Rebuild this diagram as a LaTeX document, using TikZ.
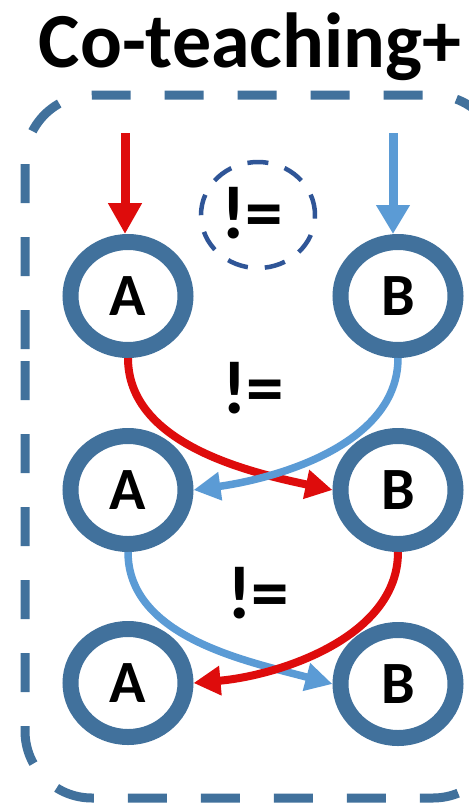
\documentclass[tikz,border=0pt]{standalone}
\usepackage{fontspec}
\setmainfont{Carlito}
\usetikzlibrary{arrows.meta,shapes.geometric}
\definecolor{ringblue}{RGB}{65,113,156}
\definecolor{darkdash}{RGB}{47,85,151}
\definecolor{arrred}{RGB}{222,12,12}
\definecolor{arrblue}{RGB}{91,155,213}
\tikzset{
  ringnode/.style={ellipse, draw=ringblue, line width=16pt, minimum width=115pt,
    minimum height=108pt, inner sep=0pt, text=black,
    font=\fontsize{60}{60}\selectfont\bfseries},
  neq/.style={inner sep=0pt, text=black, font=\fontsize{75}{75}\selectfont\bfseries},
  dcirc/.style={ellipse, draw=darkdash, line width=4.5pt, minimum width=114pt,
    minimum height=106pt, inner sep=0pt, dash pattern=on 21pt off 17pt},
  titlenode/.style={inner sep=0pt, text=black, font=\fontsize{78}{78}\selectfont\bfseries},
  border/.style={draw=ringblue, line width=9pt, dash pattern=on 39pt off 34pt},
  redv/.style={draw=arrred, line width=9pt, -{Triangle[length=31pt,width=32pt]}},
  bluev/.style={draw=arrblue, line width=9pt, -{Triangle[length=29pt,width=32pt]}},
  redc/.style={draw=arrred, line width=8pt, -{Triangle[length=27pt,width=28pt]}},
  bluec/.style={draw=arrblue, line width=7.5pt, -{Triangle[length=27pt,width=27pt]}},
}
\begin{document}
\begin{tikzpicture}[x=1pt,y=1pt]
\useasboundingbox (0,0) rectangle (469,-804);
\begin{scope}
\clip (0,0) rectangle (469,-804);
\fill[white] (0,0) rectangle (469,-804);
% dashed frame
\draw[border] (25,-361) -- (25,-731) arc[start angle=180,end angle=270,radius=67]
  -- (433,-798) arc[start angle=270,end angle=360,radius=67]
  -- (500,-162) arc[start angle=0,end angle=90,radius=67]
  -- (92,-95) arc[start angle=90,end angle=180,radius=67] -- cycle;
% title
\node[titlenode, anchor=base] (title) at (250,-67) {Co-teaching+};
% model nodes
\node[ringnode] (A1) at (128,-296) {A};
\node[ringnode] (B1) at (398,-296) {B};
\node[ringnode] (A2) at (128,-490) {A};
\node[ringnode] (B2) at (398,-490) {B};
\node[ringnode] (A3) at (128,-683) {A};
\node[ringnode] (B3) at (398,-684) {B};
% != labels
\node[dcirc] (dc) at (258,-215) {};
\node[neq] (n1) at (252,-213) {!=};
\node[neq] (n2) at (253,-388) {!=};
\node[neq] (n3) at (258,-593) {!=};
% input arrows
\coordinate (ra) at (125,-133);
\coordinate (rb) at (393,-133);
\draw[redv] (ra) -- (ra |- A1.north);
\draw[bluev] (rb) -- (rb |- B1.north);
% cross arrows
\draw[redc] (A1.south) to[out=-90,in=168,looseness=0.9] (B2.west);
\draw[bluec] (B1.south) to[out=-90,in=8,looseness=0.9] (A2.east);
\draw[bluec] (A2.south) to[out=-90,in=165,looseness=0.9] (B3.west);
\draw[redc] (B2.south) to[out=-90,in=5,looseness=0.9] (A3.east);
\end{scope}
\end{tikzpicture}
\end{document}
